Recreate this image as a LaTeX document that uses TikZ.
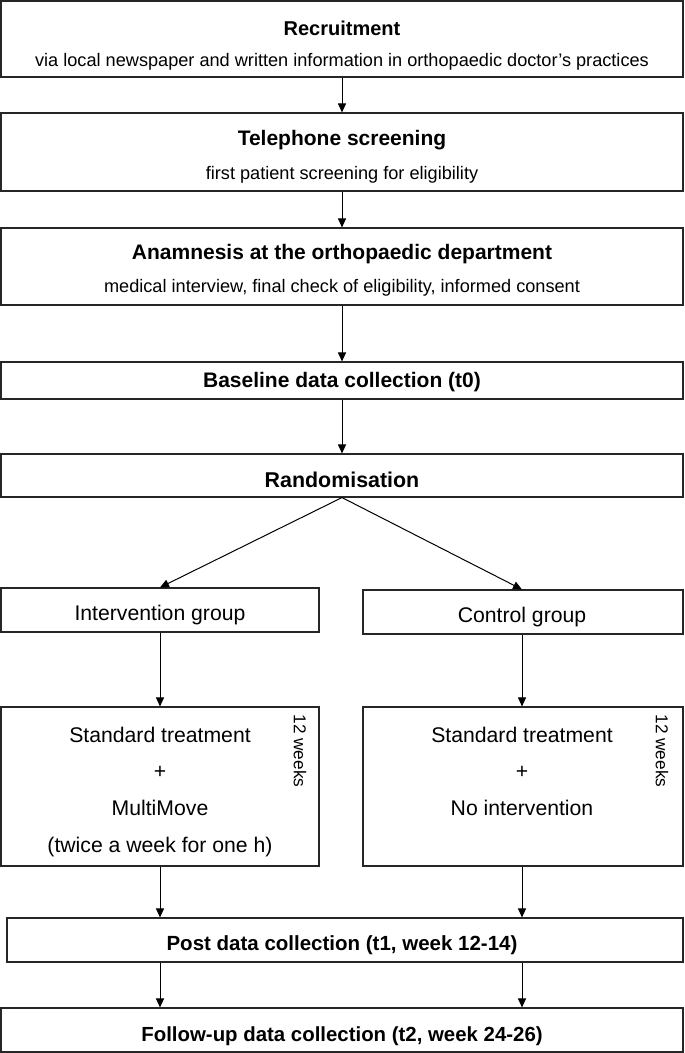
\documentclass[tikz,border=0pt]{standalone}
\usepackage{fontspec}
\setmainfont{Liberation Sans}
\usetikzlibrary{arrows.meta}
\tikzset{
  box/.style={draw=black!85, line width=1.1pt, inner sep=0pt},
  ttl/.style={font=\fontsize{21}{24}\selectfont\bfseries, inner sep=0pt},
  sub/.style={font=\fontsize{18.15}{21}\selectfont, inner sep=0pt},
  txt/.style={font=\fontsize{21.2}{24}\selectfont, inner sep=0pt},
  wk/.style={font=\fontsize{17.2}{20}\selectfont, inner sep=0pt, rotate=-90},
  arr/.style={line width=1pt, -{Triangle[length=9pt,width=8pt]}}
}
\begin{document}
\begin{tikzpicture}[x=1pt,y=-1pt]
\useasboundingbox (0,0) rectangle (685,1053);
% boxes
\node[box, minimum width=682pt, minimum height=76pt] (rec) at (342,39) {};
\node[box, minimum width=682pt, minimum height=78pt] (tel) at (342,152) {};
\node[box, minimum width=682pt, minimum height=77pt] (ana) at (342,266.5) {};
\node[box, minimum width=682pt, minimum height=37pt] (base) at (342,380.5) {};
\node[box, minimum width=682pt, minimum height=43pt] (rand) at (342,475.5) {};
\node[box, minimum width=318pt, minimum height=44pt] (ig) at (160,610) {};
\node[box, minimum width=320pt, minimum height=44pt] (cg) at (523,612) {};
\node[box, minimum width=318pt, minimum height=159pt] (it) at (160,786.5) {};
\node[box, minimum width=320pt, minimum height=159pt] (ct) at (523,786.5) {};
\node[box, minimum width=676pt, minimum height=44pt] (post) at (345,940) {};
\node[box, minimum width=682pt, minimum height=44pt] (fu) at (342,1030) {};
% texts
\node[ttl, font=\fontsize{20}{24}\selectfont\bfseries] (rect) at (342,28) {Recruitment};
\node[sub] (recs) at (342,62) {via local newspaper and written information in orthopaedic doctor's practices};
\node[ttl] (telt) at (342,140) {Telephone screening};
\node[sub] (tels) at (342,175) {first patient screening for eligibility};
\node[ttl] (anat) at (342,254) {Anamnesis at the orthopaedic department};
\node[sub] (anas) at (342,288) {medical interview, final check of eligibility, informed consent};
\node[ttl] (baset) at (342,382) {Baseline data collection (t0)};
\node[ttl, font=\fontsize{21.4}{24}\selectfont\bfseries] (randt) at (342,480) {Randomisation};
\node[txt] (igt) at (160,615) {Intervention group};
\node[txt] (cgt) at (522,617) {Control group};
\node[txt] (it1) at (160,735) {Standard treatment};
\node[txt] (it2) at (160,772) {+};
\node[txt] (it3) at (160,808) {MultiMove};
\node[txt] (it4) at (160,847) {(twice a week for one h)};
\node[wk] (iw) at (300,751) {12 weeks};
\node[txt] (ct1) at (522,735) {Standard treatment};
\node[txt] (ct2) at (522,772) {+};
\node[txt] (ct3) at (522,808) {No intervention};
\node[wk] (cw) at (662,751) {12 weeks};
\node[ttl, font=\fontsize{20.5}{24}\selectfont\bfseries] (postt) at (342,945) {Post data collection (t1, week 12-14)};
\node[ttl, font=\fontsize{20.4}{24}\selectfont\bfseries] (fut) at (342,1036) {Follow-up data collection (t2, week 24-26)};
% connectors
\draw[arr] (rec.south) -- (tel.north);
\draw[arr] (tel.south) -- (ana.north);
\draw[arr] (ana.south) -- (base.north);
\draw[arr] (base.south) -- (rand.north);
\draw[arr] (rand.south) -- (ig.north);
\draw[arr] (rand.south) -- (cg.north -| ct1.north);
\draw[arr] (ig.south) -- (it.north);
\draw[arr] (cg.south -| ct1.north) -- (ct.north -| ct1.north);
\draw[arr] (it.south) -- (it.south |- post.north);
\draw[arr] (ct.south -| ct1.north) -- (post.north -| ct1.north);
\draw[arr] (it.south |- post.south) -- (it.south |- fu.north);
\draw[arr] (post.south -| ct1.north) -- (fu.north -| ct1.north);
\end{tikzpicture}
\end{document}
